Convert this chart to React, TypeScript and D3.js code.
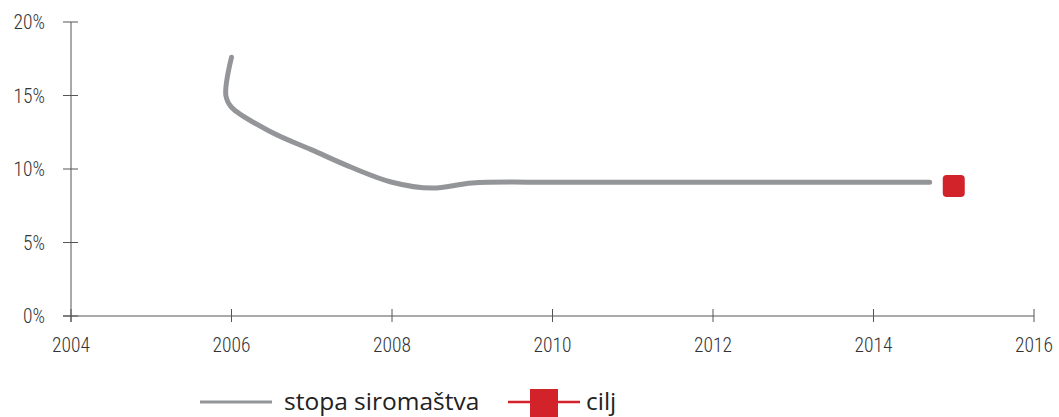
import React from "react";
import * as d3 from "d3";

const years = [2006.0, 2005.93, 2006.0, 2006.5, 2007.0, 2007.5, 2008.0, 2008.5, 2009.0, 2010.0, 2011.0, 2012.0, 2013.0, 2014.0, 2014.7];
const rates = [17.6, 15.0, 14.2, 12.5, 11.3, 10.1, 9.1, 8.7, 9.05, 9.1, 9.1, 9.1, 9.1, 9.1, 9.1];
const targetYear = [2015.0];
const targetRate = [8.85];
const xTicks = [2004, 2006, 2008, 2010, 2012, 2014, 2016];
const yTicks = [0, 5, 10, 15, 20];
const legendLabels = ["stopa siromaštva", "cilj"];

const W = 1059, H = 417;
const x = d3.scaleLinear().domain([2004, 2016]).range([71, 1034]);
const y = d3.scaleLinear().domain([0, 20]).range([316, 22]);
const axisColor = "#555";
const grey = "#939598";
const red = "#d2232a";
const tickFont = "'Roboto Condensed', 'Liberation Sans Narrow', Roboto, sans-serif";

export default function App() {
  const pts = years.map((yr, i) => [x(yr), y(rates[i])] as [number, number]);
  const line = d3.line().curve(d3.curveCatmullRom.alpha(0.5))(pts) || "";
  return (
    <svg width={W} height={H} style={{ position: "absolute", left: 0, top: 0 }}>
      <rect width={W} height={H} fill="#fff" />
      {/* y axis */}
      <line x1={x(2004)} x2={x(2004)} y1={y(20)} y2={y(0) + 6} stroke={axisColor} strokeWidth={1} />
      {yTicks.map((t) => (
        <g key={t}>
          <line x1={x(2004) - 8} x2={x(2004) + 7} y1={y(t)} y2={y(t)} stroke={axisColor} />
          <text x={45} y={y(t) + 7} textAnchor="end" fontSize={19.5} fontWeight={300} fill="#333" fontFamily={tickFont}>{t}%</text>
        </g>
      ))}
      {/* x axis */}
      <line x1={x(2004) - 8} x2={x(2016)} y1={y(0)} y2={y(0)} stroke={axisColor} />
      {xTicks.map((t) => (
        <g key={t}>
          <line x1={x(t)} x2={x(t)} y1={y(0) - 7} y2={y(0) + 6} stroke={axisColor} />
          <text x={x(t)} y={352} textAnchor="middle" fontSize={19.5} fontWeight={300} fill="#333" fontFamily={tickFont}>{t}</text>
        </g>
      ))}
      <path d={line} fill="none" stroke={grey} strokeWidth={5} strokeLinecap="round" strokeLinejoin="round" />
      {targetYear.map((yr, i) => (
        <rect key={i} x={x(yr) - 11} y={y(targetRate[i]) - 11} width={22} height={22} rx={4} fill={red} />
      ))}
      {/* legend */}
      <line x1={200} x2={272} y1={402} y2={402} stroke={grey} strokeWidth={3} />
      <text x={284} y={410} fontSize={24.5} fill="#222" fontFamily="'Open Sans', sans-serif">{legendLabels[0]}</text>
      <line x1={508} x2={580} y1={402} y2={402} stroke={red} strokeWidth={2.5} />
      <rect x={530} y={389} width={28} height={28} fill={red} />
      <text x={586} y={410} fontSize={24.5} fill="#222" fontFamily="'Open Sans', sans-serif">{legendLabels[1]}</text>
    </svg>
  );
}
